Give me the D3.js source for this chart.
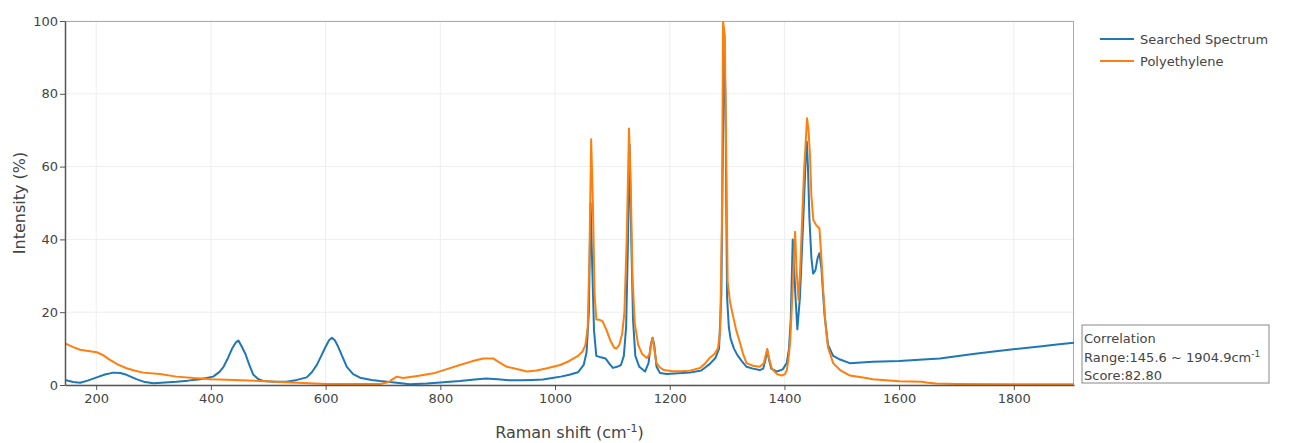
<!DOCTYPE html>
<html>
<head>
<meta charset="utf-8">
<script src="https://cdn.jsdelivr.net/npm/d3@7"></script>
<style>
  body { margin: 0; background: #fff; }
  text { font-family: "DejaVu Sans", Verdana, sans-serif; fill: #444; }
</style>
</head>
<body>
<div id="chart"></div>
<script>
// Raman shift (cm-1) / intensity (%) pairs
var searchedSpectrum = [
  [145.6,1.4],[160,0.8],[172,0.6],[185,1.2],[201,2.1],[215,2.9],[230,3.4],[242,3.3],[253,2.8],[270,1.6],
  [285,0.8],[300,0.5],[320,0.7],[340,0.9],[360,1.2],[381,1.6],[404,2.3],[415,3.6],[422,5],[430,7.5],
  [437,10],[444,11.8],[448,12.2],[453,10.8],[460,8.6],[467,5.5],[474,2.8],[483,1.6],[491,1.1],[510,0.9],
  [532,0.9],[550,1.4],[567,2.1],[576,3.5],[585,5.6],[593,8.2],[600,10.5],[606,12.3],[611,13],[616,12.3],
  [622,10.5],[630,7.5],[637,5],[648,3],[660,2],[680,1.4],[695,1.1],[720,0.7],[747,0.2],[776,0.4],
  [800,0.7],[834,1.1],[860,1.5],[880,1.8],[900,1.6],[920,1.3],[940,1.3],[960,1.4],[979,1.5],[995,1.9],
  [1010,2.3],[1025,2.8],[1040,3.5],[1050,5.5],[1055,9],[1059,20],[1062,50],[1065,32],[1068,15],[1072,8],
  [1080,7.6],[1088,7.3],[1095,5.8],[1101,4.7],[1108,5],[1115,5.5],[1120,8],[1124,16],[1127,38],[1130,66],
  [1133,40],[1136,18],[1140,8],[1147,5],[1157,3.7],[1163,6],[1167,11],[1170,13],[1173,11],[1177,5],
  [1183,3.3],[1195,3],[1215,3.2],[1235,3.4],[1255,4],[1270,5.8],[1280,7.5],[1286,10],[1290,25],[1293,70],
  [1295,96],[1297,80],[1300,24],[1303,16],[1306,12.8],[1312,10],[1318,8.2],[1326,6.5],[1334,5],[1345,4.5],
  [1357,4.1],[1363,4.5],[1367,7],[1370,9.8],[1373,7],[1377,4.5],[1387,3.7],[1397,4.3],[1404,6],[1408,10],
  [1411,18],[1414.5,40],[1417,32],[1419,25],[1422.5,15.3],[1427,24],[1433,46],[1437,62],[1439,66.8],[1441,60],
  [1443.5,46],[1447,35],[1450,30.6],[1454,31.5],[1458,35],[1461,36.2],[1464.6,32],[1467,26],[1470,19.2],[1476,11],
  [1485,8],[1497,7],[1514,6],[1554,6.4],[1600,6.6],[1642,7],[1671,7.3],[1700,7.9],[1729,8.5],[1765,9.2],
  [1799,9.8],[1845,10.6],[1875,11.1],[1904.9,11.6]
];

var polyethylene = [
  [145.6,11.4],[160,10.4],[172,9.7],[189,9.3],[201,9],[212,8.2],[224,6.9],[238,5.6],[253,4.6],[268,3.9],
  [282,3.4],[311,3],[340,2.3],[370,1.9],[401,1.6],[440,1.4],[486,1.1],[540,0.7],[602,0.3],[650,0.3],
  [695,0.3],[705,0.6],[712,1],[718,1.7],[724,2.3],[735,1.9],[760,2.5],[788,3.2],[810,4.3],[834,5.5],
  [855,6.5],[875,7.3],[892,7.3],[903,6.2],[916,5],[935,4.3],[951,3.7],[968,4],[986,4.6],[1009,5.5],
  [1025,6.6],[1040,8],[1048,9.2],[1053,11],[1057,16],[1060,35],[1063,67.5],[1066,50],[1069,25],[1072,18],
  [1078,17.9],[1083,17.5],[1090,15],[1097,12],[1103,10.3],[1107,10],[1112,11],[1117,14],[1121,20],[1125,40],
  [1129,70.5],[1132,55],[1135,30],[1139,17],[1145,11],[1152,8.5],[1160,7.4],[1165,8.5],[1168,11.5],[1170.4,13],
  [1173,10],[1177,6],[1183,4.8],[1190,4.1],[1205,3.8],[1220,3.8],[1235,3.9],[1253,4.7],[1262,6],[1270,7.5],
  [1278,8.5],[1284,10],[1288,15],[1291,45],[1293,100],[1296,96],[1298,70],[1301,28.4],[1305,23],[1310,19.2],
  [1316,15],[1322,11.9],[1328,8.5],[1334,6],[1345,5.3],[1357,5],[1364,6],[1367,8],[1370,9.8],[1373,7.5],
  [1378,4.5],[1387,3],[1395,2.6],[1401,3],[1404,4],[1407,7],[1410,11.9],[1414,25],[1418.6,42.1],[1421,32],
  [1424.6,23.4],[1427,30],[1430,42],[1434,58],[1439.4,73.3],[1442,70],[1444.6,63],[1447,52],[1450.4,45.3],[1455,44],
  [1461,43],[1464,36],[1468,25],[1472,16],[1476,10.3],[1485,6],[1497,4.1],[1514,2.6],[1540,2],[1554,1.6],
  [1600,1],[1640,0.9],[1650,0.6],[1665,0.4],[1700,0.3],[1800,0.2],[1904.9,0.2]
];

var seriesNames = ["Searched Spectrum", "Polyethylene"];
var seriesColors = ["#1f77b4", "#ff7f0e"];
var xTicks = [200, 400, 600, 800, 1000, 1200, 1400, 1600, 1800];
var yTicks = [0, 20, 40, 60, 80, 100];
var xRange = [145.6, 1904.9];
var scoreLines = ["Correlation", "Range:145.6 ~ 1904.9cm", "Score:82.80"];

var W = 1290, H = 443;
var margin = { left: 65, right: 216, top: 21, bottom: 58 };
var width = W - margin.left - margin.right;
var height = H - margin.top - margin.bottom;

var svg = d3.select("#chart").append("svg")
  .attr("width", W).attr("height", H);

var g = svg.append("g")
  .attr("transform", "translate(" + margin.left + "," + margin.top + ")");

var x = d3.scaleLinear().domain(xRange).range([0, width]);
var y = d3.scaleLinear().domain([0, 100]).range([height, 0]);

// grid
g.append("g").selectAll("line").data(xTicks).enter().append("line")
  .attr("x1", d => x(d)).attr("x2", d => x(d))
  .attr("y1", 0).attr("y2", height)
  .attr("stroke", "#eee").attr("stroke-width", 1);
g.append("g").selectAll("line").data(yTicks).enter().append("line")
  .attr("x1", 0).attr("x2", width)
  .attr("y1", d => y(d)).attr("y2", d => y(d))
  .attr("stroke", "#eee").attr("stroke-width", 1);

// frame top/right
g.append("line").attr("x1", 0).attr("x2", width).attr("y1", 0.5).attr("y2", 0.5)
  .attr("stroke", "#aaa");
g.append("line").attr("x1", width - 0.5).attr("x2", width - 0.5).attr("y1", 0).attr("y2", height)
  .attr("stroke", "#aaa");

g.append("clipPath").attr("id", "clip").append("rect")
  .attr("width", width).attr("height", height + 1);

var line = d3.line().x(d => x(d[0])).y(d => y(d[1]));

var plot = g.append("g").attr("clip-path", "url(#clip)");
[searchedSpectrum, polyethylene].forEach(function (data, i) {
  plot.append("path")
    .datum(data)
    .attr("d", line)
    .attr("fill", "none")
    .attr("stroke", seriesColors[i])
    .attr("stroke-width", 2)
    .attr("stroke-linejoin", "round");
});

// axes
var xAxis = g.append("g")
  .attr("transform", "translate(0," + height + ")")
  .call(d3.axisBottom(x).tickValues(xTicks).tickFormat(d3.format("d"))
    .tickSize(5).tickSizeOuter(0).tickPadding(4));
var yAxis = g.append("g")
  .call(d3.axisLeft(y).tickValues(yTicks).tickFormat(d3.format("d"))
    .tickSize(5).tickSizeOuter(0).tickPadding(2));

[xAxis, yAxis].forEach(function (a) {
  a.select(".domain").attr("stroke", "#555").attr("stroke-width", 1.5);
  a.selectAll(".tick line").attr("stroke", "#555");
  a.selectAll(".tick text")
    .style("font-family", "DejaVu Sans, Verdana, sans-serif")
    .style("font-size", "13px").attr("fill", "#444");
});

// axis titles
var xTitle = svg.append("text")
  .attr("x", margin.left + width / 2)
  .attr("y", 438)
  .attr("text-anchor", "middle")
  .style("font-size", "16px");
xTitle.append("tspan").text("Raman shift (cm");
xTitle.append("tspan").attr("dy", -6).style("font-size", "11px").text("-1");
xTitle.append("tspan").attr("dy", 6).text(")");

svg.append("text")
  .attr("transform", "translate(25," + (margin.top + height / 2) + ") rotate(-90)")
  .attr("text-anchor", "middle")
  .style("font-size", "16px")
  .text("Intensity (%)");

// legend
var legend = svg.append("g").attr("transform", "translate(1100,39)");
seriesNames.forEach(function (name, i) {
  var row = legend.append("g").attr("transform", "translate(0," + (i * 22) + ")");
  row.append("line").attr("x1", 0).attr("x2", 34).attr("y1", 0).attr("y2", 0)
    .attr("stroke", seriesColors[i]).attr("stroke-width", 2);
  row.append("text").attr("x", 40).attr("y", 4.5)
    .style("font-size", "13px").text(name);
});

// score box
var box = svg.append("g").attr("transform", "translate(1082,325)");
box.append("rect").attr("width", 187).attr("height", 58)
  .attr("fill", "#fff").attr("stroke", "#888").attr("stroke-width", 1);
scoreLines.forEach(function (s, i) {
  var t = box.append("text").attr("x", 2).attr("y", 18 + i * 18.5)
    .style("font-size", "13px").text(s);
  if (i === 1) {
    t.append("tspan").attr("dy", -5).style("font-size", "9px").text("-1");
  }
});
</script>
</body>
</html>
